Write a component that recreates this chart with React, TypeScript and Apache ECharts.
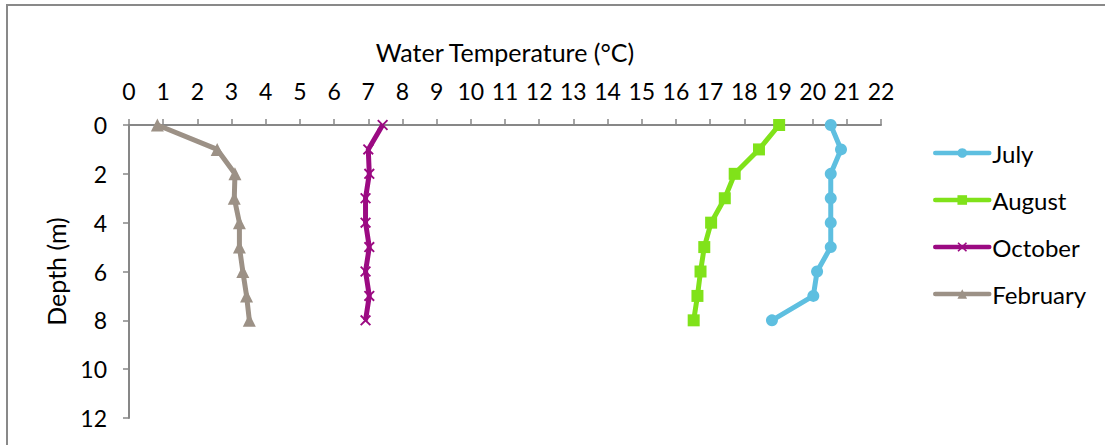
import React, { useEffect, useRef } from "react";
import * as echarts from "echarts";

const depths = [0, 1, 2, 3, 4, 5, 6, 7, 8];
const july = [20.53, 20.83, 20.53, 20.53, 20.53, 20.53, 20.13, 20.02, 18.81];
const august = [19.02, 18.43, 17.72, 17.43, 17.03, 16.83, 16.72, 16.63, 16.52];
const october = [7.42, 7.0, 7.03, 6.92, 6.92, 7.03, 6.92, 7.03, 6.92];
const february = [0.83, 2.58, 3.1, 3.08, 3.23, 3.23, 3.33, 3.44, 3.52];
const seriesNames = ["July", "August", "October", "February"];

const FONT = "Lato, 'Open Sans', sans-serif";
const CROSS =
  "path://M0,1.2 L1.2,0 L5,3.8 L8.8,0 L10,1.2 L6.2,5 L10,8.8 L8.8,10 L5,6.2 L1.2,10 L0,8.8 L3.8,5 Z";

export default function App() {
  const ref = useRef<HTMLDivElement>(null);
  useEffect(() => {
    document.body.style.margin = "0";
    const chart = echarts.init(ref.current!, null, { renderer: "svg" });
    const mk = (vals: number[]) => vals.map((v, i) => [v, depths[i]]);
    const colors = ["#5EBFE0", "#80E21A", "#9B0A82", "#9C9186"];
    const symbols = ["circle", "rect", CROSS, "triangle"];
    const sizes = [12, 12, 11, 13];
    const datas = [july, august, october, february];
    chart.setOption({
      animation: false,
      textStyle: { fontFamily: FONT },
      graphic: [
        {
          type: "rect",
          shape: { x: 7, y: 5, width: 1300, height: 600 },
          style: { fill: "none", stroke: "#898989", lineWidth: 2 },
          silent: true,
        },
      ],
      grid: { left: 129, top: 125, width: 752, height: 293 },
      legend: {
        orient: "vertical",
        left: 933,
        top: 141,
        padding: 0,
        itemWidth: 54,
        itemHeight: 12,
        itemGap: 23,
        data: seriesNames,
        lineStyle: { width: 4.5, cap: "round" },
        textStyle: { fontFamily: FONT, fontSize: 24, color: "#000", lineHeight: 24, padding: [0, 0, 0, -2] },
      },
      xAxis: {
        type: "value",
        position: "top",
        min: 0,
        max: 22,
        interval: 1,
        name: "Water Temperature (°C)",
        nameLocation: "middle",
        nameGap: 61,
        nameTextStyle: { fontFamily: FONT, fontSize: 25, color: "#000" },
        axisLine: { show: true, lineStyle: { color: "#878787", width: 2 } },
        axisTick: { show: true, length: 6, lineStyle: { color: "#878787", width: 1.5 } },
        axisLabel: { fontFamily: FONT, fontSize: 23, color: "#000", margin: 23 },
        splitLine: { show: false },
      },
      yAxis: {
        type: "value",
        inverse: true,
        min: 0,
        max: 12,
        interval: 2,
        name: "Depth (m)",
        nameLocation: "middle",
        nameGap: 61,
        nameTextStyle: { fontFamily: FONT, fontSize: 25, color: "#000" },
        axisLine: { show: true, lineStyle: { color: "#878787", width: 2 } },
        axisTick: { show: true, length: 6, lineStyle: { color: "#878787", width: 1.5 } },
        axisLabel: { fontFamily: FONT, fontSize: 23, color: "#000", margin: 22 },
        splitLine: { show: false },
      },
      series: seriesNames.map((name, i) => ({
        name,
        type: "line",
        data: mk(datas[i]),
        symbol: symbols[i],
        symbolSize: sizes[i],
        showSymbol: true,
        color: colors[i],
        lineStyle: { color: colors[i], width: 5 },
        itemStyle: { color: colors[i] },
        z: 2 + (3 - i),
      })),
    });
    return () => chart.dispose();
  }, []);
  return <div ref={ref} style={{ width: 1105, height: 445 }} />;
}
